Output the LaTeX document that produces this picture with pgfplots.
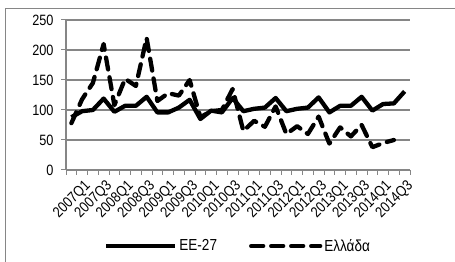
\documentclass[border=0pt]{standalone}
\usepackage{fontspec}
\setmainfont{Liberation Sans}[FakeStretch=0.85]
\usepackage{pgfplots}
\usepackage{pgfplotstable}
\pgfplotsset{compat=1.18}
\definecolor{gridgray}{RGB}{134,134,134}
\pgfplotstableread{
x ee gr
0.5 88 78
1.5 98 118
2.5 100 145
3.5 119 210
4.5 97 108
5.5 107 152
6.5 107 140
7.5 122 220
8.5 96 115
9.5 96 128
10.5 104 124
11.5 117 150
12.5 85 88
13.5 99 98
14.5 96 100
15.5 120 135
16.5 98 65
17.5 102 82
18.5 104 72
19.5 120 106
20.5 98 60
21.5 102 73
22.5 104 60
23.5 121 89
24.5 96 44
25.5 107 71
26.5 107 56
27.5 122 75
28.5 99 38
29.5 110 45
30.5 111 50
31.5 131 nan
}\data
\begin{document}
\begin{tikzpicture}
\path[use as bounding box] (0bp,0bp) rectangle (455bp,262bp);
\clip (0bp,0bp) rectangle (455bp,262bp);
\draw[gridgray, line width=1bp] (5.5bp,-10bp) rectangle (470bp,253.5bp);
\begin{axis}[
  at={(66bp,92bp)}, anchor=south west,
  scale only axis, width=344bp, height=150bp,
  xmin=0, xmax=32, ymin=0, ymax=250,
  axis x line*=bottom, axis y line*=left,
  axis line style={gridgray, line width=1.2bp},
  ytick={0,50,...,250},
  ymajorgrids, grid style={gridgray, line width=1.2bp},
  xtick={0,...,32}, xticklabels={},
  extra x ticks={0.5,2.5,...,30.5},
  extra x tick labels={2007Q1,2007Q3,2008Q1,2008Q3,2009Q1,2009Q3,2010Q1,2010Q3,2011Q1,2011Q3,2012Q1,2012Q3,2013Q1,2013Q3,2014Q1,2014Q3},
  extra x tick style={major tick length=0pt, xticklabel style={rotate=45, anchor=north east, inner sep=0bp, yshift=-15bp, xshift=2bp}},
  tick align=outside, major tick length=5bp,
  tick style={gridgray, line width=1bp},
  tick label style={font=\fontsize{15}{15}\selectfont, black},
  yticklabel style={xshift=-4bp},
  /pgf/number format/assume math mode=true,
  clip=false,
  legend columns=2,
  legend style={at={(0.5,-0.507)}, anchor=center, draw=none, fill=none,
    font=\fontsize{16}{16}\selectfont,
    /tikz/every even column/.append style={column sep=30bp}},
  legend image code/.code={\draw[#1] (0bp,0bp) -- (69bp,0bp);},
]
\addplot[black, line width=4.3bp, line join=round] table[x=x,y=ee]{\data};
\addlegendentry{ΕΕ-27}
\addplot[black, line width=4.3bp, dash pattern=on 12bp off 8bp, line cap=round, line join=round] table[x=x,y=gr]{\data};
\addlegendentry{Ελλάδα}
\end{axis}
\end{tikzpicture}
\end{document}
